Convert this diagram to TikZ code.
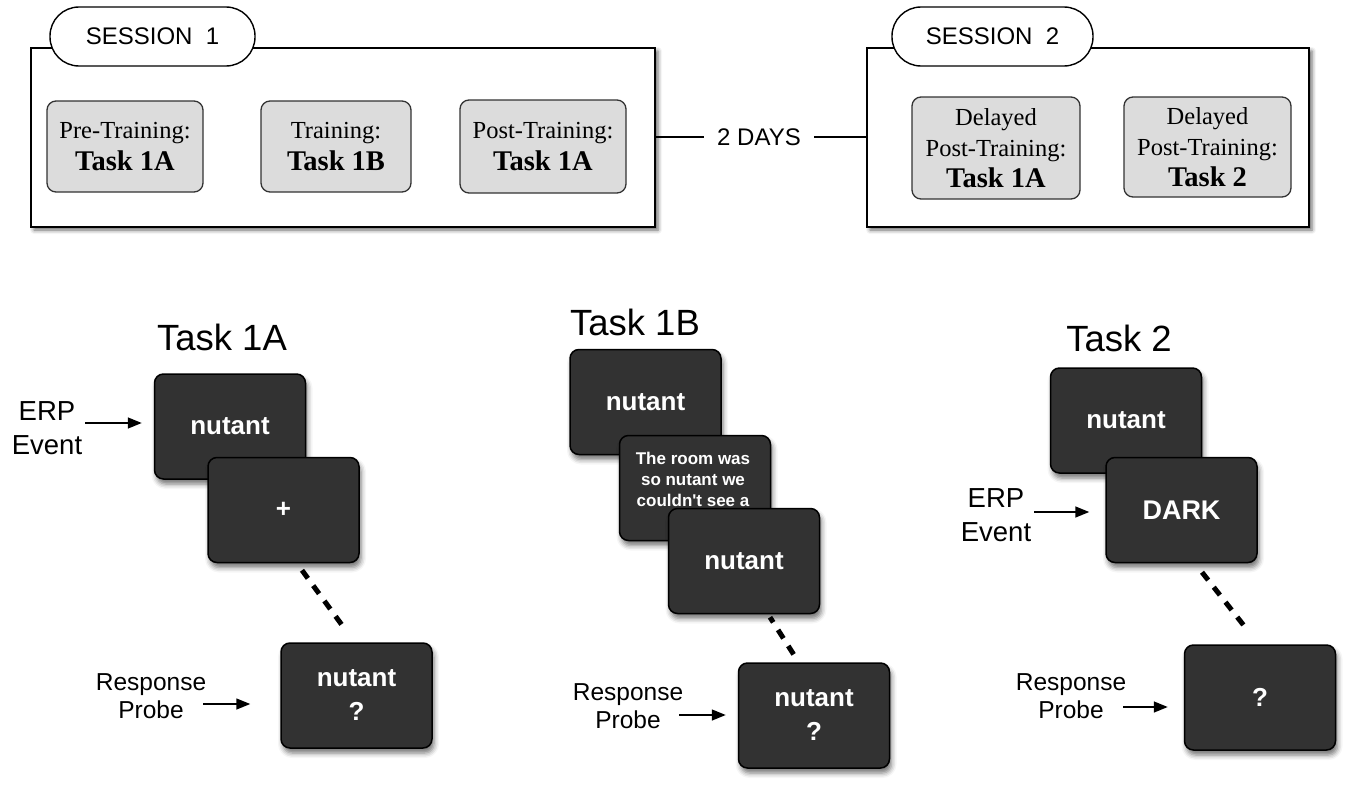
\documentclass[tikz,border=0pt]{standalone}
\usepackage{fontspec}
\setmainfont{Liberation Serif}
\newfontfamily\hv{Liberation Sans}
\usetikzlibrary{shadows.blur,arrows.meta,calc}
\definecolor{scr}{RGB}{50,50,50}
\definecolor{phasefill}{RGB}{220,220,220}
\begin{document}
\begin{tikzpicture}[x=1pt,y=-1pt,
  sess/.style={draw=black, line width=1.5pt, fill=white, inner sep=0pt,
    blur shadow={shadow xshift=3pt, shadow yshift=-3pt, shadow blur radius=4pt, shadow opacity=60}},
  tabpill/.style={draw=black, line width=1.4pt, fill=white, rounded corners=29pt,
    minimum height=59pt, inner sep=0pt, font=\hv\fontsize{24}{28}\selectfont},
  phase/.style={draw=black!80, fill=phasefill, line width=1.3pt, rounded corners=9pt,
    inner sep=0pt, align=center, font=\fontsize{24.5}{32}\selectfont},
  screen/.style={draw=black, fill=scr, line width=1.5pt, rounded corners=9pt,
    minimum width=151pt, minimum height=105pt, inner sep=0pt, align=center,
    text=white, font=\hv\bfseries\fontsize{26}{34}\selectfont,
    blur shadow={shadow xshift=2pt, shadow yshift=-5pt, shadow blur radius=5pt, shadow opacity=55}},
  ttl/.style={font=\hv\fontsize{36.5}{40}\selectfont},
  lbl/.style={font=\hv\fontsize{27.5}{34}\selectfont, align=center, inner sep=3pt},
  rlbl/.style={font=\hv\fontsize{24.5}{28}\selectfont, align=center, inner sep=3pt},
  arr/.style={line width=1.5pt, -{Triangle[length=14pt,width=11pt]}},
  dots/.style={line width=5pt, dash pattern=on 10pt off 9pt},
  link/.style={line width=1.3pt}
]
\useasboundingbox (0,0) rectangle (1345,795);

% ---------------- Session 1 ----------------
\node[sess, minimum width=624pt, minimum height=179pt] (s1) at (343,137.5) {};
\node[tabpill, minimum width=205pt] (t1) at (152.5,36.5) {SESSION\ \ 1};
\node[phase, minimum width=156pt, minimum height=91pt] (p1) at (125,146.5)
  {Pre-Training:\\{\fontsize{28.5}{32}\selectfont\bfseries Task 1A}};
\node[phase, minimum width=150pt, minimum height=91pt] (p2) at (336,146.5)
  {Training:\\{\fontsize{28.5}{32}\selectfont\bfseries Task 1B}};
\node[phase, minimum width=166pt, minimum height=93pt] (p3) at (543,146.5)
  {Post-Training:\\{\fontsize{28.5}{32}\selectfont\bfseries Task 1A}};

% ---------------- Session 2 ----------------
\node[sess, minimum width=442pt, minimum height=179pt] (s2) at (1088,137.5) {};
\node[tabpill, minimum width=201pt] (t2) at (992.5,36.5) {SESSION\ \ 2};
\node[phase, minimum width=168pt, minimum height=102pt, font=\fontsize{24.5}{31}\selectfont] (q1) at (996,148)
  {Delayed\\Post-Training:\\{\fontsize{28.5}{31}\selectfont\bfseries Task 1A}};
\node[phase, minimum width=167pt, minimum height=100pt, font=\fontsize{24.5}{31}\selectfont] (q2) at (1207.5,147)
  {Delayed\\Post-Training:\\{\fontsize{28.5}{31}\selectfont\bfseries Task 2}};

% ---------------- 2 days ----------------
\node[font=\hv\fontsize{24}{28}\selectfont, inner xsep=13pt] (days) at (759,137) {2 DAYS};
\draw[link] (days.west -| s1.east) -- (days.west);
\draw[link] (days.east) -- (days.east -| s2.west);

% ---------------- Task 1A ----------------
\node[ttl] (ta) at (222,337) {Task 1A};
\node[screen] (a1) at (230,426.5) {nutant};
\node[screen] (a2) at (283.5,510) {+};
\node[screen] (a3) at (356.5,695.5) {nutant\\?};
\node[lbl] (erpa) at (47,428) {ERP\\Event};
\node[rlbl] (respa) at (151,696) {Response\\Probe};
\draw[arr, shorten >=12pt] ([yshift=5pt]erpa.east) -- ([yshift=5pt]erpa.east -| a1.west);
\draw[arr, shorten >=30pt] ([xshift=-6pt,yshift=-8pt]respa.east) -- ([yshift=-8pt]respa.east -| a3.west);
\draw[dots] ([xshift=18.5pt,yshift=-7pt]a2.south) -- ([xshift=-10pt,yshift=11pt]a3.north);

% ---------------- Task 1B ----------------
\node[ttl] (tbt) at (635,322) {Task 1B};
\node[screen] (b1) at (645.5,402) {nutant};
\node[screen] (b2) at (695,488) {};
\node[text=white, font=\hv\bfseries\fontsize{17}{21}\selectfont, align=center, inner sep=0pt] (b2t) at (693,479)
  {The room was\\so nutant we\\couldn't see a};
\node[screen] (b3) at (744,561) {nutant};
\node[screen] (b4) at (814,715.5) {nutant\\?};
\node[rlbl] (respb) at (628,706) {Response\\Probe};
\draw[arr, shorten >=12pt] ([xshift=-7pt,yshift=-9pt]respb.east) -- ([yshift=-9pt]respb.east -| b4.west);
\draw[dots, dash phase=4pt] ([xshift=26pt,yshift=-3pt]b3.south) -- ([xshift=-16pt,yshift=1pt]b4.north);

% ---------------- Task 2 ----------------
\node[ttl] (tct) at (1119,338) {Task 2};
\node[screen] (c1) at (1126,420.5) {nutant};
\node[screen, font=\hv\bfseries\fontsize{27}{34}\selectfont] (c2) at (1181.5,510) {DARK};
\node[screen] (c3) at (1260,697.5) {?};
\node[lbl] (erpc) at (996,515) {ERP\\Event};
\node[rlbl] (respc) at (1071,696) {Response\\Probe};
\draw[arr, shorten >=16pt] ([yshift=3pt]erpc.east) -- ([yshift=3pt]erpc.east -| c2.west);
\draw[arr, shorten >=16pt] ([xshift=-6pt,yshift=-11pt]respc.east) -- ([yshift=-11pt]respc.east -| c3.west);
\draw[dots] ([xshift=20.5pt,yshift=-9pt]c2.south) -- ([xshift=-14pt,yshift=16pt]c3.north);
\end{tikzpicture}
\end{document}
